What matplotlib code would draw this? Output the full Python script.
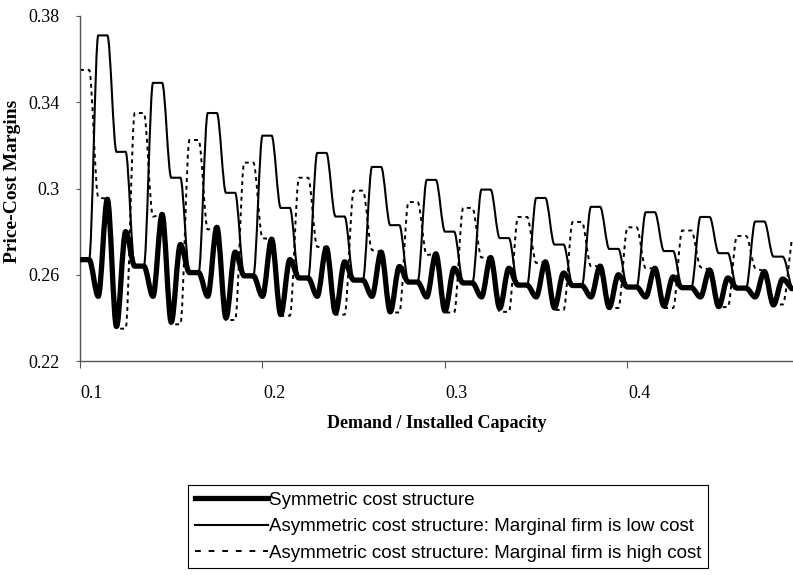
import numpy as np
import matplotlib
matplotlib.use("Agg")
import matplotlib.pyplot as plt
from matplotlib.path import Path
from matplotlib.patches import PathPatch
from matplotlib.lines import Line2D
from matplotlib.transforms import ScaledTranslation

# Demand / installed capacity, step 0.005
demand = np.round(np.arange(0.100, 0.4901, 0.005), 3)

# Price-cost margins, one row per 0.03 cycle
symmetric = [
    0.267, 0.267, 0.250, 0.295, 0.236, 0.280,
    0.264, 0.264, 0.250, 0.288, 0.238, 0.274,
    0.261, 0.261, 0.250, 0.282, 0.240, 0.2705,
    0.2595, 0.2595, 0.250, 0.2765, 0.2415, 0.267,
    0.2585, 0.2585, 0.250, 0.2725, 0.2423, 0.266,
    0.2575, 0.2575, 0.250, 0.2705, 0.2428, 0.2638,
    0.2566, 0.2566, 0.2497, 0.2697, 0.2432, 0.263,
    0.2562, 0.2562, 0.2497, 0.268, 0.2445, 0.263,
    0.2552, 0.2552, 0.2497, 0.266, 0.2446, 0.2608,
    0.255, 0.255, 0.2497, 0.264, 0.2448, 0.260,
    0.2543, 0.2543, 0.2497, 0.263, 0.2455, 0.259,
    0.254, 0.254, 0.2497, 0.2622, 0.2452, 0.2585,
    0.2538, 0.2538, 0.2497, 0.2615, 0.246, 0.258,
    0.2535,
]

low_cost = [
    0.267, 0.267, 0.371, 0.371, 0.317, 0.317,
    0.264, 0.264, 0.349, 0.349, 0.305, 0.305,
    0.261, 0.261, 0.335, 0.335, 0.298, 0.298,
    0.2595, 0.2595, 0.3245, 0.3245, 0.291, 0.291,
    0.2585, 0.2585, 0.3165, 0.3165, 0.287, 0.287,
    0.2575, 0.2575, 0.310, 0.310, 0.283, 0.283,
    0.2566, 0.2566, 0.304, 0.304, 0.280, 0.280,
    0.2562, 0.2562, 0.2995, 0.2995, 0.277, 0.277,
    0.2552, 0.2552, 0.2956, 0.2956, 0.274, 0.274,
    0.255, 0.255, 0.2915, 0.2915, 0.272, 0.272,
    0.2543, 0.2543, 0.289, 0.289, 0.271, 0.271,
    0.254, 0.254, 0.2868, 0.2868, 0.270, 0.270,
    0.2538, 0.2538, 0.2847, 0.2847, 0.2684, 0.2684,
    0.2535,
]

high_cost = [
    0.355, 0.355, 0.296, 0.295, 0.235, 0.235,
    0.335, 0.335, 0.287, 0.288, 0.237, 0.237,
    0.3225, 0.3225, 0.281, 0.282, 0.239, 0.239,
    0.312, 0.312, 0.277, 0.2765, 0.241, 0.241,
    0.305, 0.305, 0.273, 0.2725, 0.2415, 0.2415,
    0.299, 0.299, 0.2715, 0.2705, 0.2425, 0.2425,
    0.2937, 0.2937, 0.2692, 0.2697, 0.2425, 0.2425,
    0.291, 0.291, 0.268, 0.268, 0.2428, 0.2428,
    0.2868, 0.2868, 0.2655, 0.266, 0.2437, 0.2437,
    0.2845, 0.2845, 0.264, 0.264, 0.2446, 0.2446,
    0.282, 0.282, 0.263, 0.263, 0.2446, 0.2446,
    0.2805, 0.2805, 0.2636, 0.2622, 0.245, 0.245,
    0.278, 0.278, 0.2631, 0.2615, 0.2462, 0.2462,
    0.276,
]

labels = [
    "Symmetric cost structure",
    "Asymmetric cost structure: Marginal firm is low cost",
    "Asymmetric cost structure: Marginal firm is high cost",
]
x_ticks = [0.1, 0.2, 0.3, 0.4]
y_ticks = [0.22, 0.26, 0.30, 0.34, 0.38]
y_tick_labels = ["0.22", "0.26", "0.3", "0.34", "0.38"]


def smooth_path(x, y):
    # monotone cubic bezier through the points (no overshoot at plateaus)
    x = np.asarray(x, float)
    y = np.asarray(y, float)
    h = np.diff(x)
    d = np.diff(y) / h
    m = np.zeros_like(y)
    m[0], m[-1] = d[0], d[-1]
    for i in range(1, len(y) - 1):
        if d[i - 1] * d[i] > 0:
            m[i] = 2 / (1 / d[i - 1] + 1 / d[i])
    verts = [(x[0], y[0])]
    codes = [Path.MOVETO]
    for i in range(len(x) - 1):
        verts += [(x[i] + h[i] / 3, y[i] + m[i] * h[i] / 3),
                  (x[i + 1] - h[i] / 3, y[i + 1] - m[i + 1] * h[i] / 3),
                  (x[i + 1], y[i + 1])]
        codes += [Path.CURVE4] * 3
    return Path(verts, codes)


serif = "Liberation Serif"
fig = plt.figure(figsize=(7.93, 5.75), dpi=100)
ax = fig.add_axes([80 / 793, 1 - 361 / 575, 1 - 80 / 793, (361 - 16) / 575])

ax.add_patch(PathPatch(smooth_path(demand, high_cost), fill=False, ec="black",
                       lw=1.4, ls=(0, (2, 2)), zorder=2))
ax.add_patch(PathPatch(smooth_path(demand, low_cost), fill=False, ec="black",
                       lw=1.5, zorder=3))
ax.add_patch(PathPatch(smooth_path(demand, symmetric), fill=False, ec="black",
                       lw=3.8, joinstyle="round", capstyle="round", zorder=4))

ax.set_xlim(0.1, 0.4907)
ax.set_ylim(0.22, 0.38)

for side in ["top", "right"]:
    ax.spines[side].set_visible(False)
for side in ["left", "bottom"]:
    ax.spines[side].set_color("#555555")
    ax.spines[side].set_linewidth(1.0)

ax.set_xticks(x_ticks)
ax.set_xticklabels([str(t) for t in x_ticks], fontfamily=serif, fontsize=13)
ax.set_yticks(y_ticks)
ax.set_yticklabels(y_tick_labels, fontfamily=serif, fontsize=13)
ax.tick_params(axis="x", direction="out", length=5, width=0.8, color="#555555", pad=12)
ax.tick_params(axis="y", direction="out", length=3, width=0.8, color="#555555", pad=12)
# category labels sit a little right of their tick marks
for lab in ax.get_xticklabels():
    lab.set_transform(lab.get_transform() + ScaledTranslation(12 / 100, 0, fig.dpi_scale_trans))

ax.set_xlabel("Demand / Installed Capacity", fontfamily=serif, fontsize=13,
              fontweight="bold", va="center")
ax.xaxis.set_label_coords(0.5, (361 - 423) / 345)
ax.set_ylabel("Price-Cost Margins", fontfamily=serif, fontsize=14,
              fontweight="bold", va="center")
ax.yaxis.set_label_coords((13 - 80) / 713, (361 - 181) / 345)

handles = [
    Line2D([], [], color="black", lw=3.8),
    Line2D([], [], color="black", lw=1.5),
    Line2D([], [], color="black", lw=1.4, ls=(0, (3, 4))),
]
leg = fig.legend(handles, labels, loc="upper left",
                 bbox_to_anchor=(188 / 793, 1 - 485 / 575), borderaxespad=0,
                 frameon=True, fancybox=False, edgecolor="black", framealpha=1,
                 prop={"family": "Liberation Sans", "size": 13.5},
                 handlelength=3.9, handletextpad=0.05, borderpad=0.35,
                 labelspacing=0.5)
leg.get_frame().set_linewidth(0.8)

fig.savefig("out.png", dpi=100)
